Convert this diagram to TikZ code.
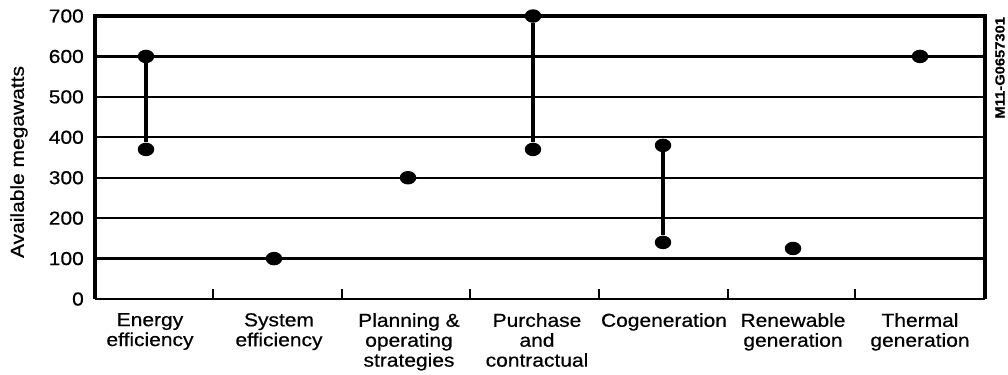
\documentclass[tikz,border=0pt]{standalone}
\usepackage{fontspec}
\setmainfont{Liberation Sans}[FakeStretch=1.12,FakeBold=0.6]
\usetikzlibrary{shapes.geometric}
\tikzset{
  dot/.style={ellipse,fill=black,inner sep=0pt,minimum width=16.5bp,minimum height=13.5bp},
  gridline/.style={line width=2.4bp},
  frame/.style={line width=3.4bp},
  spanline/.style={line width=3.2bp},
  catlabel/.style={anchor=north,align=center,inner sep=0pt,
    font=\fontsize{18.8}{20}\selectfont},
  ticklabel/.style={anchor=east,inner sep=0pt,font=\fontsize{18.8}{20}\selectfont}
}
\begin{document}
\begin{tikzpicture}[x=1bp,y=0.4043bp]
        \useasboundingbox (-95,-185.5) rectangle (913,739.6);
        %% Grid
        \foreach \v in {0,100,...,600}
            \draw[gridline] (0,\v) -- (890,\v);
        \foreach \v in {0,100,...,700}
            \node[ticklabel] (t\v) at (-11,\v) {\v};
        %% Frame
        \draw[frame] (0,0) -- (0,700) -- (890,700) -- (890,0);
        \foreach \x in {118,247,375,504,633,760}
            \draw[gridline] (\x,0) -- (\x,25);
        %% Labels
        \node[rotate=90,font=\fontsize{18.8}{20}\selectfont] (ytitle) at (-76,339)
            {Available megawatts};
        \node[rotate=90,font=\fontsize{13.2}{14}\selectfont\bfseries] (figid) at (905,572)
            {M11-G0657301};
        \node[catlabel,yshift=-14bp] (c1) at (55,0) {Energy\\efficiency};
        \node[catlabel,yshift=-14bp] (c2) at (184,0) {System\\efficiency};
        \node[catlabel,yshift=-14bp] (c3) at (314,0) {Planning \&\\operating\\strategies};
        \node[catlabel,yshift=-14bp] (c4) at (442,0) {Purchase\\and\\contractual};
        \node[catlabel,yshift=-14bp] (c5) at (569,0) {Cogeneration};
        \node[catlabel,yshift=-14bp] (c6) at (698,0) {Renewable\\generation};
        \node[catlabel,yshift=-14bp] (c7) at (825,0) {Thermal\\generation};
        %% Values
        \node[dot] (ee1) at (51,600) {};
        \node[dot] (ee2) at (51,370) {};
        \node[dot] (se) at (179,100) {};
        \node[dot] (po) at (313,300) {};
        \node[dot] (pc1) at (438,700) {};
        \node[dot] (pc2) at (438,370) {};
        \node[dot] (cg1) at (568,380) {};
        \node[dot] (cg2) at (568,140) {};
        \node[dot] (rg) at (698,125) {};
        \node[dot] (tg) at (825,600) {};
        \draw[spanline] (ee1) -- (ee2);
        \draw[spanline] (pc1) -- (pc2);
        \draw[spanline] (cg1) -- (cg2);
    \end{tikzpicture}
\end{document}
